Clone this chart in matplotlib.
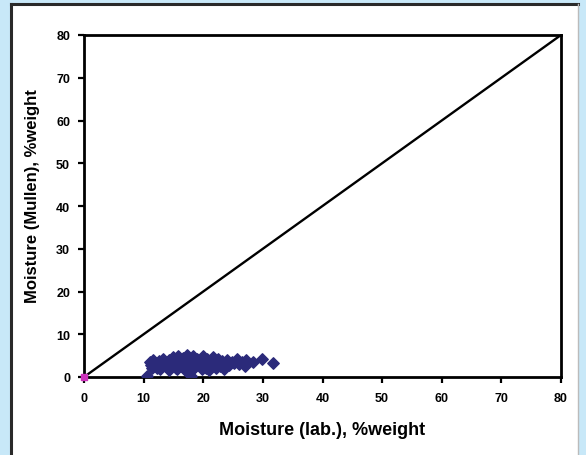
import matplotlib
matplotlib.use("Agg")
import matplotlib.pyplot as plt
from matplotlib.patches import Rectangle
from matplotlib.lines import Line2D

# Laboratory moisture vs. Mullen meter reading (% weight)
lab_moisture = [10.5, 11.0, 11.3, 11.6, 12.0, 12.2, 12.6, 13.0, 13.3, 13.7,
                14.0, 14.3, 14.7, 15.0, 15.2, 15.5, 15.8, 16.0, 16.3, 16.6,
                16.9, 17.2, 17.5, 17.8, 18.0, 18.0, 18.3, 18.7, 19.0, 19.3,
                19.6, 20.0, 20.3, 20.6, 21.0, 21.3, 21.7, 22.0, 22.4, 22.8,
                23.2, 23.6, 24.0, 24.4, 24.8, 25.2, 25.6, 26.0, 26.5, 27.0,
                27.2, 28.4, 29.8, 31.7, 11.4, 12.8, 14.2, 15.6, 17.0, 19.8,
                21.0, 22.2, 23.4, 16.2, 18.4, 20.4]
mullen_moisture = [0.3, 3.6, 2.8, 4.0, 3.2, 2.2, 3.8, 2.6, 4.2, 3.0,
                   2.4, 3.9, 2.8, 4.6, 3.4, 2.2, 5.0, 3.8, 2.6, 4.4,
                   3.2, 5.2, 2.8, 4.0, 0.3, 3.4, 4.8, 2.6, 4.2, 3.6,
                   2.4, 4.8, 3.2, 4.2, 2.8, 3.8, 4.6, 3.0, 4.2, 2.6,
                   3.8, 3.2, 4.0, 2.8, 3.6, 3.2, 4.2, 3.0, 3.6, 2.6,
                   4.0, 3.4, 4.2, 3.3, 2.0, 1.8, 1.6, 1.8, 1.6, 1.8,
                   1.6, 2.0, 1.8, 3.0, 2.0, 2.2]

origin_x = [0]
origin_y = [0]

axis_min, axis_max = 0, 80
ticks = [0, 10, 20, 30, 40, 50, 60, 70, 80]

plt.rcParams['font.family'] = ['Liberation Sans', 'DejaVu Sans']

fig = plt.figure(figsize=(5.86, 4.56), dpi=100)
fig.patch.set_facecolor('#c8e8f8')

# White chart panel with dark left/top edges
W, H = 586, 456
panel = Rectangle((10 / W, 0), (578 - 10) / W, (456 - 5) / H,
                  transform=fig.transFigure, facecolor='white',
                  edgecolor='none', zorder=-5)
fig.patches.append(panel)
for xs, ys, c, w in [([11 / W, 11 / W], [0, 1 - 5 / H], '#2a2a2a', 2.2),
                     ([11 / W, 578 / W], [1 - 5 / H, 1 - 5 / H], '#2a2a2a', 2.2),
                     ([578 / W, 578 / W], [0, 1 - 5 / H], '#bbbbbb', 1.0)]:
    fig.lines.append(Line2D(xs, ys, transform=fig.transFigure, color=c, lw=w, zorder=-4))

ax = fig.add_axes([84 / W, 1 - 378 / H, (561 - 84) / W, (378 - 36) / H])
ax.set_zorder(1)
ax.set_facecolor('white')

ax.plot([axis_min, axis_max], [axis_min, axis_max], color='black', lw=1.7, zorder=2)
ax.scatter(lab_moisture, mullen_moisture, marker='D', s=34, color='#2b2a7a',
           edgecolors='#2b2a7a', zorder=3)
ax.scatter(origin_x, origin_y, marker='s', s=24, color='#cc33bb', zorder=4, clip_on=False)

ax.set_xlim(axis_min, axis_max)
ax.set_ylim(axis_min, axis_max)
ax.set_xticks(ticks)
ax.set_yticks(ticks)
ax.tick_params(direction='out', length=4, width=1.6, labelsize=9)
ax.tick_params(axis='x', pad=7)
ax.tick_params(axis='y', pad=6)
for lbl in ax.get_xticklabels() + ax.get_yticklabels():
    lbl.set_fontweight('bold')
for s in ax.spines.values():
    s.set_linewidth(2.0)

ax.set_xlabel('Moisture (lab.), %weight', fontsize=13, fontweight='bold', va='center')
ax.set_ylabel('Moisture (Mullen), %weight', fontsize=12, fontweight='bold', va='center')
ax.xaxis.set_label_coords(0.5, (378 - 431) / 342)
ax.yaxis.set_label_coords((33 - 84) / 477, (378 - 196) / 342)

fig.savefig('out.png', dpi=100, facecolor=fig.get_facecolor())
